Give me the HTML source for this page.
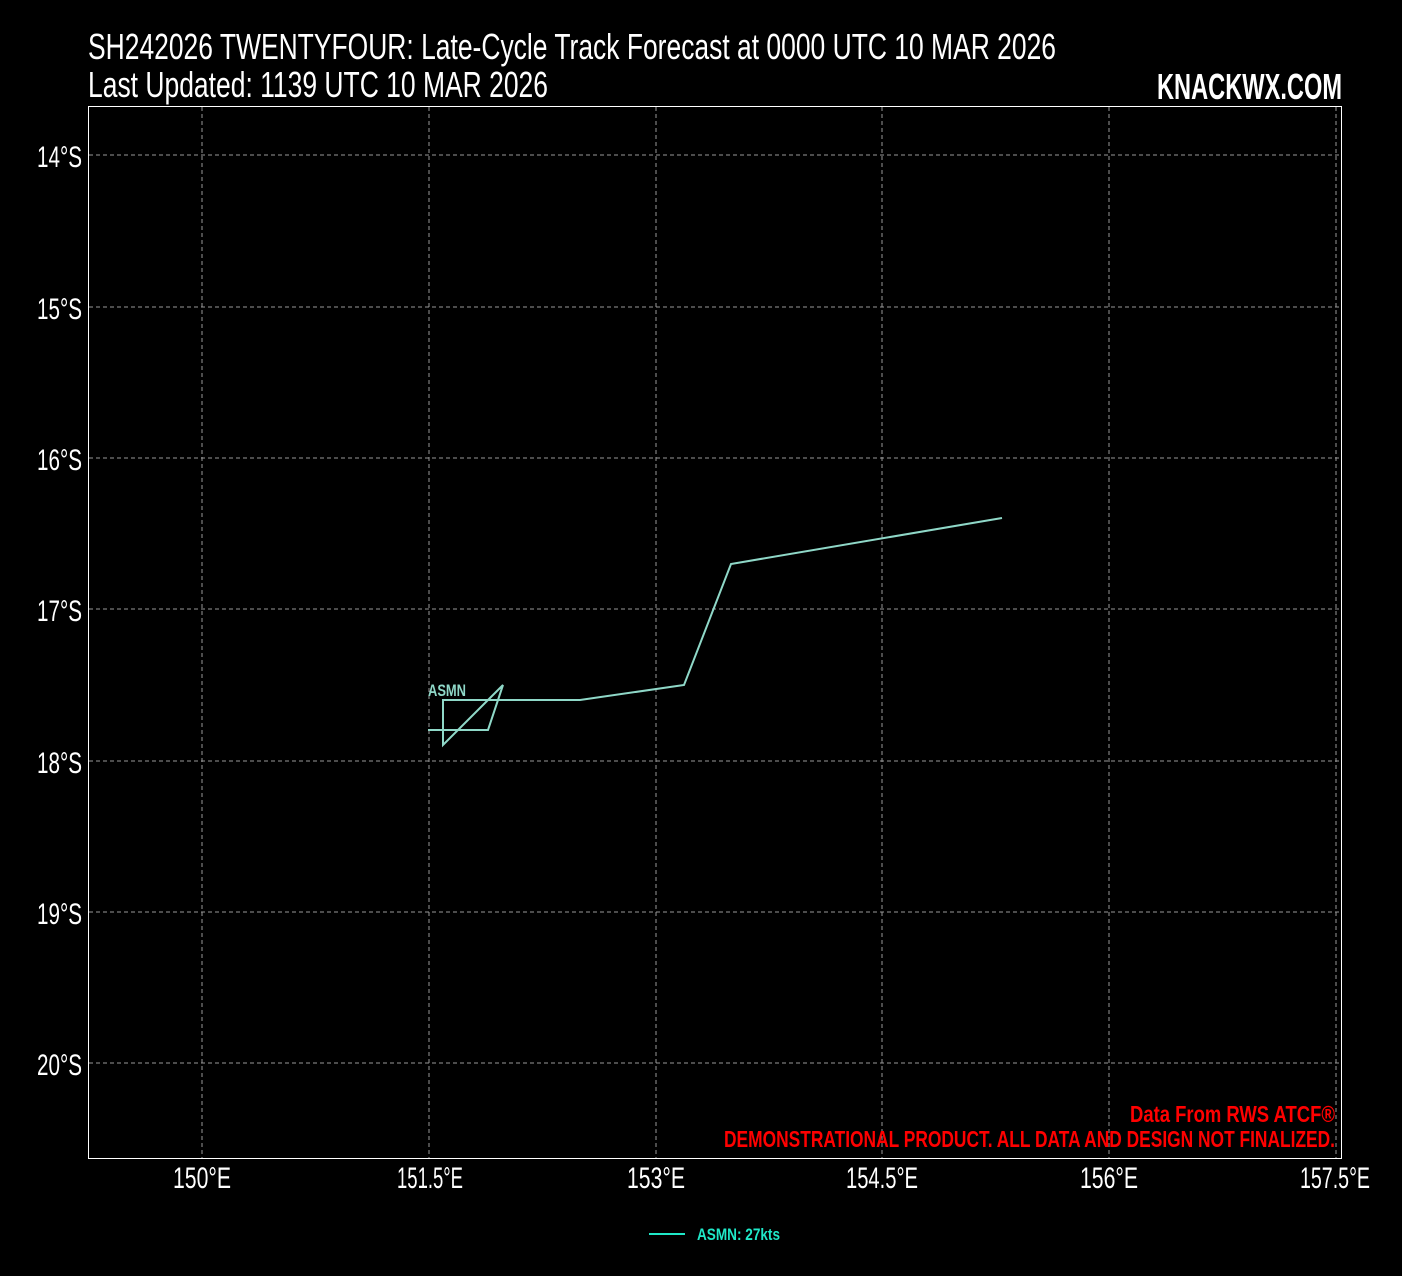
<!DOCTYPE html>
<html><head><meta charset="utf-8"><style>
html,body{margin:0;padding:0;background:#000;}
svg{display:block;font-family:"Liberation Sans Narrow","Liberation Sans",sans-serif;}
</style></head><body>
<svg width="1402" height="1276" viewBox="0 0 1402 1276" xmlns="http://www.w3.org/2000/svg">
<rect width="1402" height="1276" fill="#000"/>
<text x="88" y="59" fill="#fff" font-size="36" textLength="968" lengthAdjust="spacingAndGlyphs">SH242026 TWENTYFOUR: Late-Cycle Track Forecast at 0000 UTC 10 MAR 2026</text>
<text x="88" y="97" fill="#fff" font-size="36" textLength="460" lengthAdjust="spacingAndGlyphs">Last Updated: 1139 UTC 10 MAR 2026</text>
<text x="1342" y="99" fill="#fff" font-size="36" font-weight="bold" text-anchor="end" textLength="185" lengthAdjust="spacingAndGlyphs">KNACKWX.COM</text>
<rect x="88.5" y="106.5" width="1253" height="1052" fill="none" stroke="#fff" stroke-width="1"/>
<g stroke="#999" stroke-width="1" stroke-dasharray="4,3">
<line x1="202" y1="107" x2="202" y2="1158"/><line x1="429" y1="107" x2="429" y2="1158"/>
<line x1="656" y1="107" x2="656" y2="1158"/><line x1="882" y1="107" x2="882" y2="1158"/>
<line x1="1109" y1="107" x2="1109" y2="1158"/><line x1="1336" y1="107" x2="1336" y2="1158"/>
<line x1="89" y1="155" x2="1341" y2="155"/><line x1="89" y1="307" x2="1341" y2="307"/>
<line x1="89" y1="458" x2="1341" y2="458"/><line x1="89" y1="609" x2="1341" y2="609"/>
<line x1="89" y1="761" x2="1341" y2="761"/><line x1="89" y1="912" x2="1341" y2="912"/>
<line x1="89" y1="1063" x2="1341" y2="1063"/>
</g>
<g fill="#fff" font-size="30" text-anchor="end">
<text x="82" y="167" textLength="45" lengthAdjust="spacingAndGlyphs">14°S</text>
<text x="82" y="319" textLength="45" lengthAdjust="spacingAndGlyphs">15°S</text>
<text x="82" y="470" textLength="45" lengthAdjust="spacingAndGlyphs">16°S</text>
<text x="82" y="621" textLength="45" lengthAdjust="spacingAndGlyphs">17°S</text>
<text x="82" y="773" textLength="45" lengthAdjust="spacingAndGlyphs">18°S</text>
<text x="82" y="924" textLength="45" lengthAdjust="spacingAndGlyphs">19°S</text>
<text x="82" y="1075" textLength="45" lengthAdjust="spacingAndGlyphs">20°S</text>
</g>
<g fill="#fff" font-size="30">
<text x="173" y="1188" textLength="58" lengthAdjust="spacingAndGlyphs">150°E</text>
<text x="397" y="1188" textLength="66" lengthAdjust="spacingAndGlyphs">151.5°E</text>
<text x="627" y="1188" textLength="58" lengthAdjust="spacingAndGlyphs">153°E</text>
<text x="846" y="1188" textLength="72" lengthAdjust="spacingAndGlyphs">154.5°E</text>
<text x="1080" y="1188" textLength="58" lengthAdjust="spacingAndGlyphs">156°E</text>
<text x="1300" y="1188" textLength="70" lengthAdjust="spacingAndGlyphs">157.5°E</text>
</g>
<polyline fill="none" stroke="#8fd8c8" stroke-width="2" points="428,730 488,730 503,685 443,745 443,700 580,700 684,685 731,564 1002,518"/>
<text x="428" y="696" fill="#8fd8c8" font-size="17" font-weight="bold" textLength="38" lengthAdjust="spacingAndGlyphs">ASMN</text>
<text x="1335" y="1122" fill="#f00" font-size="23" font-weight="bold" text-anchor="end" textLength="205" lengthAdjust="spacingAndGlyphs">Data From RWS ATCF®</text>
<text x="1335" y="1147" fill="#f00" font-size="23" font-weight="bold" text-anchor="end" textLength="611" lengthAdjust="spacingAndGlyphs">DEMONSTRATIONAL PRODUCT. ALL DATA AND DESIGN NOT FINALIZED.</text>
<line x1="649" y1="1234" x2="685" y2="1234" stroke="#1fe8c8" stroke-width="2"/>
<text x="697" y="1240" fill="#1fe8c8" font-size="17" font-weight="bold" textLength="83" lengthAdjust="spacingAndGlyphs">ASMN: 27kts</text>
</svg>
</body></html>
